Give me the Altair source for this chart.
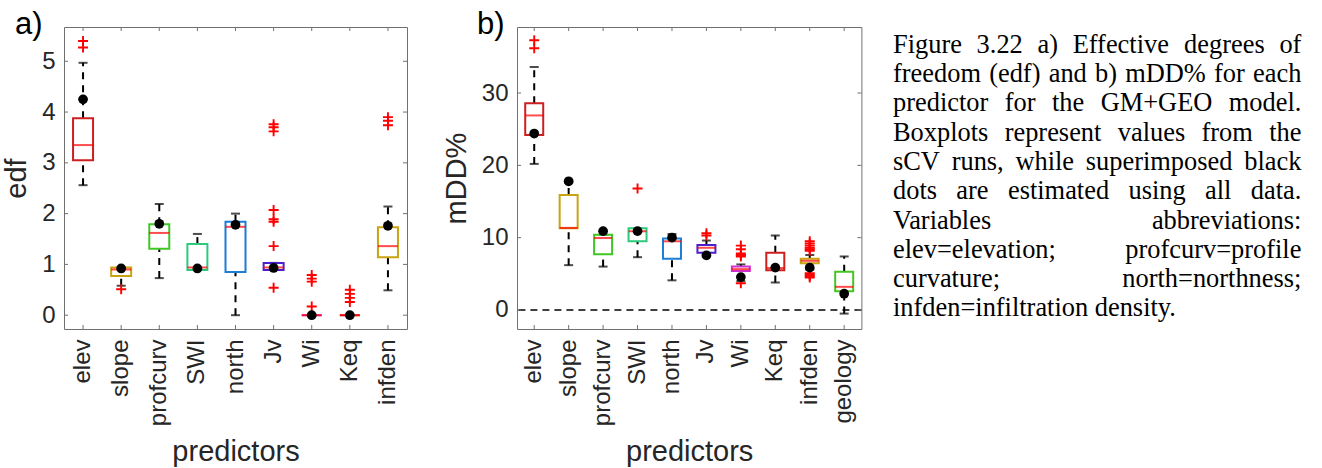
import altair as alt
import pandas as pd

SANS = "Liberation Sans"
SERIF = "Liberation Serif"
INK = "#262626"
FRAME = "#707070"
PLUS = "M-1,0H1M0,-1V1"

# ---- panel a: effective degrees of freedom ----
predictors_a = ["elev", "slope", "profcurv", "SWI", "north", "Jv", "Wi", "Keq", "infden"]
q1_a = [3.05, 0.77, 1.31, 0.89, 0.85, 0.89, 0.0, 0.0, 1.14]
med_a = [3.35, 0.90, 1.62, 0.94, 1.74, 0.94, 0.0, 0.0, 1.36]
q3_a = [3.88, 0.94, 1.79, 1.40, 1.84, 1.03, 0.0, 0.0, 1.73]
wlo_a = [2.56, 0.58, 0.73, 0.89, 0.00, 0.89, 0.0, 0.0, 0.49]
whi_a = [4.97, 0.94, 2.19, 1.60, 2.00, 1.03, 0.0, 0.0, 2.14]
dot_a = [4.25, 0.92, 1.80, 0.92, 1.78, 0.93, 0.0, 0.0, 1.76]
outliers_a = {
    "elev": [5.27, 5.40],
    "slope": [0.51],
    "Jv": [0.54, 1.36, 1.84, 1.89, 2.07, 3.62, 3.70, 3.76],
    "Wi": [0.17, 0.66, 0.72, 0.79],
    "Keq": [0.26, 0.34, 0.42, 0.50],
    "infden": [3.74, 3.83, 3.90],
}
yticks_a = [0, 1, 2, 3, 4, 5]

# ---- panel b: mDD% ----
predictors_b = predictors_a + ["geology"]
q1_b = [24.2, 11.3, 7.7, 9.5, 7.1, 7.9, 5.4, 5.5, 6.45, 2.6]
med_b = [26.9, 11.35, 9.95, 10.9, 9.5, 8.6, 5.65, 5.8, 6.8, 3.2]
q3_b = [28.6, 15.9, 10.4, 11.3, 9.9, 9.0, 6.0, 7.9, 7.1, 5.3]
wlo_b = [20.2, 6.2, 6.0, 7.3, 4.1, 7.9, 4.0, 3.8, 5.6, -0.5]
whi_b = [33.6, 17.6, 10.4, 11.3, 10.5, 9.6, 6.3, 10.3, 7.6, 7.4]
dot_b = [24.4, 17.8, 10.9, 10.9, 10.0, 7.55, 4.55, 5.85, 5.85, 2.25]
outliers_b = {
    "elev": [36.2, 37.3],
    "SWI": [16.8],
    "Jv": [10.3, 10.6],
    "Wi": [3.7, 7.4, 7.6, 7.8, 8.4, 8.9],
    "infden": [4.5, 4.7, 4.9, 5.1, 8.2, 8.4, 8.6, 8.9, 9.2, 9.5],
}
yticks_b = [0, 10, 20, 30]

# one box colour per predictor, shared by both panels
box_colors = ["#CC1F1F", "#C9A312", "#3FC726", "#2DC97E", "#1B7DD4", "#4B1FCC",
              "#D030D0", "#CC1F1F", "#C9A312", "#45C524"]

caption_lines = [
    "Figure 3.22 a) Effective degrees of",
    "freedom (edf) and b) mDD% for each",
    "predictor for the GM+GEO model.",
    "Boxplots represent values from the",
    "sCV runs, while superimposed black",
    "dots are estimated using all data.",
    "Variables abbreviations:",
    "elev=elevation; profcurv=profile",
    "curvature; north=northness;",
    "infden=infiltration density.",
]

# Times-style advance widths (1/1000 em) used to justify the caption
TIMES = {" ": 250, "!": 333, "%": 833, "(": 333, ")": 333, "+": 564, ",": 250, "-": 333,
         ".": 250, ":": 278, ";": 278, "=": 564}
TIMES.update({d: 500 for d in "0123456789"})
TIMES.update(dict(zip("ABCDEFGHIJKLMNOPQRSTUVWXYZ",
                      [722, 667, 667, 722, 611, 556, 722, 722, 333, 389, 722, 611, 889,
                       722, 722, 556, 722, 667, 556, 611, 722, 722, 944, 722, 722, 611])))
TIMES.update(dict(zip("abcdefghijklmnopqrstuvwxyz",
                      [444, 500, 444, 500, 444, 333, 500, 500, 278, 278, 500, 278, 778,
                       500, 500, 500, 500, 333, 389, 278, 500, 500, 722, 500, 500, 444])))

CAP_SIZE = 26.4


def text_width(s, size):
    return sum(TIMES.get(c, 500) for c in s) / 1000.0 * size


def caption_layers(x0, x1, y0, lead):
    left_rows, right_rows = [], []
    for i, line in enumerate(caption_lines):
        y = y0 + i * lead
        if i == len(caption_lines) - 1:
            left_rows.append({"w": line, "px": x0, "py": y})
            continue
        words = line.split(" ")
        widths = [text_width(w, CAP_SIZE) for w in words]
        gap = (x1 - x0 - sum(widths)) / (len(words) - 1)
        x = x0
        for w, wd in zip(words[:-1], widths[:-1]):
            left_rows.append({"w": w, "px": x, "py": y})
            x += wd + gap
        right_rows.append({"w": words[-1], "px": x1, "py": y})
    layers = []
    for rows, align in ((left_rows, "left"), (right_rows, "right")):
        layers.append(
            alt.Chart(pd.DataFrame(rows)).mark_text(
                align=align, baseline="alphabetic", font=SERIF, fontSize=CAP_SIZE, color="black"
            ).encode(
                x=alt.X("px:Q", scale=None, axis=None),
                y=alt.Y("py:Q", scale=None, axis=None),
                text="w:N",
            )
        )
    return layers


def panel(names, q1, med, q3, wlo, whi, dot, outliers, ydomain, yticks, ytitle,
          letter, letter_dx, width, height, box_w, zero_line=False, extra=()):
    df = pd.DataFrame(dict(name=names, q1=q1, med=med, q3=q3, wlo=wlo, whi=whi, dot=dot))
    out_df = pd.DataFrame([{"name": k, "v": v} for k, vals in outliers.items() for v in vals])
    tick_df = pd.DataFrame({"v": yticks})

    xaxis = alt.Axis(title="predictors", labelAngle=270, ticks=False, domain=False, grid=False,
                     labelFont=SANS, labelFontSize=24, labelColor=INK, labelPadding=10,
                     titleFont=SANS, titleFontSize=29, titleFontWeight="normal",
                     titleColor=INK, titlePadding=12)
    xscale = alt.Scale(domain=names, paddingInner=0, paddingOuter=0)

    def X():
        return alt.X("name:N", scale=xscale, axis=xaxis, sort=names)

    yaxis = alt.Axis(title=ytitle, values=yticks, ticks=False, domain=False, grid=False,
                     labelFont=SANS, labelFontSize=24, labelColor=INK, labelPadding=9,
                     titleFont=SANS, titleFontSize=29, titleFontWeight="normal",
                     titleColor=INK, titlePadding=10)
    yscale = alt.Scale(domain=ydomain, nice=False, zero=False)

    def Y(field):
        return alt.Y(f"{field}:Q", scale=yscale, axis=yaxis)

    base = alt.Chart(df)
    layers = []
    if zero_line:
        layers.append(alt.Chart(pd.DataFrame({"z": [0]})).mark_rule(
            color="black", strokeWidth=1.4, strokeDash=[7, 5]).encode(y=Y("z")))
    whisker = dict(color="black", strokeWidth=2, strokeDash=[7, 6])
    layers += [
        base.mark_rule(**whisker).encode(x=X(), y=Y("q3"), y2="whi"),
        base.mark_rule(**whisker).encode(x=X(), y=Y("wlo"), y2="q1"),
        base.mark_tick(color="black", thickness=2, size=9).encode(x=X(), y=Y("whi")),
        base.mark_tick(color="black", thickness=2, size=9).encode(x=X(), y=Y("wlo")),
        base.mark_bar(filled=False, strokeWidth=2, size=box_w).encode(
            x=X(), y=Y("q1"), y2="q3",
            color=alt.Color("name:N", scale=alt.Scale(domain=predictors_b, range=box_colors),
                            legend=None)),
        base.mark_tick(color="#FF0000", thickness=2, size=box_w).encode(x=X(), y=Y("med")),
        alt.Chart(out_df).mark_point(shape=PLUS, size=100, filled=False, color="#FF0000",
                                     strokeWidth=1.9, opacity=1).encode(x=X(), y=Y("v")),
        base.mark_circle(color="black", size=95, opacity=1).encode(x=X(), y=Y("dot")),
        # inward ticks on all four sides of the frame
        alt.Chart(tick_df).mark_rule(color=FRAME, strokeWidth=1).encode(
            x=alt.value(0), x2=alt.value(4), y=Y("v")),
        alt.Chart(tick_df).mark_rule(color=FRAME, strokeWidth=1).encode(
            x=alt.value(width - 4), x2=alt.value(width), y=Y("v")),
        base.mark_rule(color=FRAME, strokeWidth=1).encode(
            x=X(), y=alt.value(0), y2=alt.value(4)),
        base.mark_rule(color=FRAME, strokeWidth=1).encode(
            x=X(), y=alt.value(height - 4), y2=alt.value(height)),
        alt.Chart(pd.DataFrame({"t": [letter]})).mark_text(
            align="left", baseline="alphabetic", font=SANS, fontSize=31, color="black"
        ).encode(x=alt.value(letter_dx), y=alt.value(7), text="t:N"),
    ]
    layers += list(extra)
    return alt.layer(*layers).properties(width=width, height=height)


W_A, W_B, H = 343, 344.4, 302

panel_a = panel(predictors_a, q1_a, med_a, q3_a, wlo_a, whi_a, dot_a, outliers_a,
                [-0.272, 5.675], yticks_a, "edf", "a)", -49, W_A, H, 20)

panel_b = panel(predictors_b, q1_b, med_b, q3_b, wlo_b, whi_b, dot_b, outliers_b,
                [-2.63, 39.13], yticks_b, "mDD%", "b)", -40, W_B, H, 18, zero_line=True,
                extra=caption_layers(376, 784.4, 25.7, 29.3))

chart = alt.hconcat(panel_a, panel_b, spacing=110, bounds="flush").properties(
    padding={"left": 2, "top": 8, "right": 5, "bottom": 0},
    background="white",
).configure_view(stroke=FRAME, strokeWidth=1)

chart.save("out.html", embed_options={"renderer": "svg", "actions": False})
